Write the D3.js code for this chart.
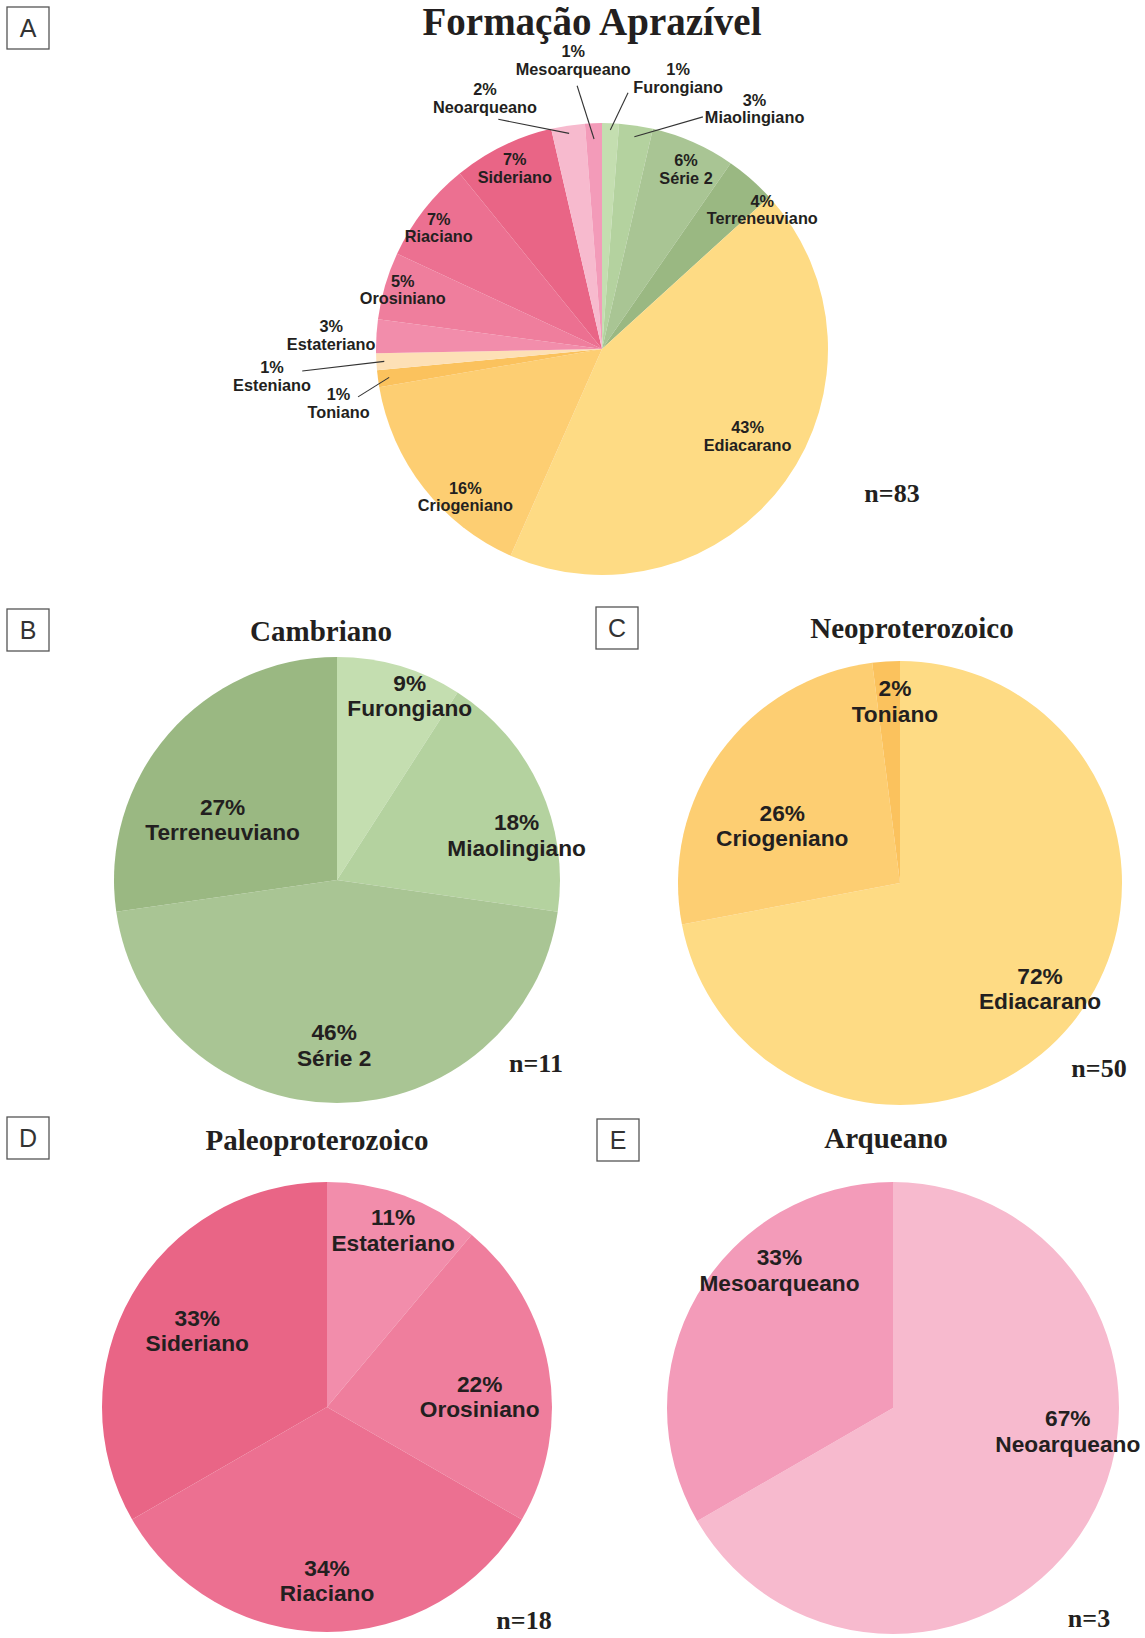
<!DOCTYPE html>
<html>
<head>
<meta charset="utf-8">
<script src="https://cdn.jsdelivr.net/npm/d3@7"></script>
<style>
  body { margin: 0; background: #fff; }
  svg { display: block; }
</style>
</head>
<body>
<div id="chart"></div>
<script>
'use strict';

// ---- data (counts, labels as printed) ----
var totalNames = ['Furongiano', 'Miaolingiano', 'Série 2', 'Terreneuviano', 'Ediacarano', 'Criogeniano',
    'Toniano', 'Esteniano', 'Estateriano', 'Orosiniano', 'Riaciano', 'Sideriano', 'Neoarqueano', 'Mesoarqueano'];
var totalCounts = [1, 2, 5, 3, 36, 13, 1, 1, 2, 4, 6, 6, 2, 1];
var totalPct = ['1%', '3%', '6%', '4%', '43%', '16%', '1%', '1%', '3%', '5%', '7%', '7%', '2%', '1%'];

var cambrianoNames = ['Furongiano', 'Miaolingiano', 'Série 2', 'Terreneuviano'];
var cambrianoCounts = [1, 2, 5, 3];
var cambrianoPct = ['9%', '18%', '46%', '27%'];

var neoproterozoicoNames = ['Ediacarano', 'Criogeniano', 'Toniano'];
var neoproterozoicoCounts = [36, 13, 1];
var neoproterozoicoPct = ['72%', '26%', '2%'];

var paleoproterozoicoNames = ['Estateriano', 'Orosiniano', 'Riaciano', 'Sideriano'];
var paleoproterozoicoCounts = [2, 4, 6, 6];
var paleoproterozoicoPct = ['11%', '22%', '34%', '33%'];

var arqueanoNames = ['Neoarqueano', 'Mesoarqueano'];
var arqueanoCounts = [2, 1];
var arqueanoPct = ['67%', '33%'];

// ---- styles ----
var colors = {
    'Furongiano': '#c4deb0',
    'Miaolingiano': '#b4d29f',
    'Série 2': '#a9c594',
    'Terreneuviano': '#9ab882',
    'Ediacarano': '#fedb84',
    'Criogeniano': '#fdce72',
    'Toniano': '#fbc25d',
    'Esteniano': '#fde0b6',
    'Estateriano': '#f28dab',
    'Orosiniano': '#ef7e9d',
    'Riaciano': '#ec7091',
    'Sideriano': '#e96586',
    'Neoarqueano': '#f7bace',
    'Mesoarqueano': '#f39bb9'
};
var ink = '#231f20';
var serif = '"Liberation Serif", "Times New Roman", serif';
var sans = '"Liberation Sans", Arial, sans-serif';

// ---- layout: label anchors as [angle in degrees, fraction of radius] ----
var panels = [
    {
        letter: 'A', box: [7, 7], title: 'Formação Aprazível', titlePos: [592, 35], titleSize: 39,
        cx: 602, cy: 349, r: 226, n: 'n=83', nPos: [892, 502],
        names: totalNames, counts: totalCounts, pct: totalPct,
        fontSize: 16.3, lineH: 17.5,
        labels: [[15.7, 1.245], [32.4, 1.26], [25, 0.88], [49, 0.94], [120.8, 0.75], [222.8, 0.89],
            [258.4, 1.19], [265.3, 1.465], [273, 1.2], [286.7, 0.92], [306.6, 0.9], [334.3, 0.89],
            [335, 1.225], [354.3, 1.285]],
        // leaders: index -> [start fraction, end angle, end fraction]
        leaders: {0: [0.97, 5.8, 1.14], 1: [0.95, 23.5, 1.12], 6: [0.95, 258.9, 1.10],
            7: [0.965, 265.8, 1.33], 12: [0.965, 335.7, 1.115], 13: [0.93, 354.6, 1.17]}
    },
    {
        letter: 'B', box: [7, 609], title: 'Cambriano', titlePos: [321, 641], titleSize: 29,
        cx: 337, cy: 880, r: 223, n: 'n=11', nPos: [536, 1072],
        names: cambrianoNames, counts: cambrianoCounts, pct: cambrianoPct,
        fontSize: 22.7, lineH: 25.5,
        labels: [[21.5, 0.89], [76, 0.83], [181, 0.74], [297.8, 0.58]]
    },
    {
        letter: 'C', box: [596, 607], title: 'Neoproterozoico', titlePos: [912, 638], titleSize: 29,
        cx: 900, cy: 883, r: 222, n: 'n=50', nPos: [1099, 1077],
        names: neoproterozoicoNames, counts: neoproterozoicoCounts, pct: neoproterozoicoPct,
        fontSize: 22.7, lineH: 25.5,
        labels: [[127, 0.79], [296, 0.59], [358.4, 0.82]]
    },
    {
        letter: 'D', box: [7, 1117], title: 'Paleoproterozoico', titlePos: [317, 1150], titleSize: 29,
        cx: 327, cy: 1407, r: 225, n: 'n=18', nPos: [524, 1629],
        names: paleoproterozoicoNames, counts: paleoproterozoicoCounts, pct: paleoproterozoicoPct,
        fontSize: 22.7, lineH: 25.5,
        labels: [[20.5, 0.84], [86, 0.68], [180, 0.77], [300.6, 0.67]]
    },
    {
        letter: 'E', box: [597, 1119], title: 'Arqueano', titlePos: [886, 1148], titleSize: 29,
        cx: 893, cy: 1408, r: 226, n: 'n=3', nPos: [1089, 1627],
        names: arqueanoNames, counts: arqueanoCounts, pct: arqueanoPct,
        fontSize: 22.7, lineH: 25.5,
        labels: [[97.5, 0.78], [320.5, 0.79]]
    }
];

var width = 1145, height = 1638;
var svg = d3.select('#chart').append('svg')
    .attr('width', width)
    .attr('height', height)
    .attr('viewBox', '0 0 ' + width + ' ' + height);

function polar(cx, cy, deg, dist) {
    var a = deg * Math.PI / 180;
    return [cx + dist * Math.sin(a), cy - dist * Math.cos(a)];
}

var pie = d3.pie().sort(null).value(function(d) { return d.count; });

panels.forEach(function(p) {
    var g = svg.append('g');

    // panel letter box
    g.append('rect')
        .attr('x', p.box[0]).attr('y', p.box[1])
        .attr('width', 42).attr('height', 42)
        .attr('fill', 'none').attr('stroke', '#555').attr('stroke-width', 1.3);
    g.append('text')
        .attr('x', p.box[0] + 21).attr('y', p.box[1] + 30)
        .attr('text-anchor', 'middle')
        .attr('font-family', sans).attr('font-size', 25)
        .attr('fill', '#333')
        .text(p.letter);

    g.append('text')
        .attr('x', p.titlePos[0]).attr('y', p.titlePos[1])
        .attr('text-anchor', 'middle')
        .attr('font-family', serif).attr('font-weight', 'bold')
        .attr('font-size', p.titleSize).attr('fill', ink)
        .text(p.title);

    var rows = p.names.map(function(name, i) {
        return {name: name, count: p.counts[i], pct: p.pct[i]};
    });
    var arcs = pie(rows);
    var arc = d3.arc().innerRadius(0).outerRadius(p.r);

    var pg = g.append('g').attr('transform', 'translate(' + p.cx + ',' + p.cy + ')');
    pg.selectAll('path')
        .data(arcs)
        .enter().append('path')
        .attr('d', arc)
        .attr('fill', function(d) { return colors[d.data.name]; });

    // leader lines
    if (p.leaders) {
        Object.keys(p.leaders).forEach(function(k) {
            var d = arcs[+k], L = p.leaders[k];
            var mid = (d.startAngle + d.endAngle) / 2 * 180 / Math.PI;
            var a = polar(p.cx, p.cy, mid, L[0] * p.r);
            var b = polar(p.cx, p.cy, L[1], L[2] * p.r);
            g.append('line')
                .attr('x1', a[0]).attr('y1', a[1])
                .attr('x2', b[0]).attr('y2', b[1])
                .attr('stroke', '#333').attr('stroke-width', 1.1);
        });
    }

    // labels: percentage over name
    arcs.forEach(function(d, i) {
        var pos = polar(p.cx, p.cy, p.labels[i][0], p.labels[i][1] * p.r);
        var t = g.append('text')
            .attr('text-anchor', 'middle')
            .attr('font-family', sans).attr('font-weight', 'bold')
            .attr('font-size', p.fontSize).attr('fill', ink);
        t.append('tspan')
            .attr('x', pos[0]).attr('y', pos[1] - p.lineH / 2)
            .attr('dominant-baseline', 'central')
            .text(d.data.pct);
        t.append('tspan')
            .attr('x', pos[0]).attr('y', pos[1] + p.lineH / 2)
            .attr('dominant-baseline', 'central')
            .text(d.data.name);
    });

    g.append('text')
        .attr('x', p.nPos[0]).attr('y', p.nPos[1])
        .attr('text-anchor', 'middle')
        .attr('font-family', serif).attr('font-weight', 'bold')
        .attr('font-size', 26).attr('fill', ink)
        .text(p.n);
});
</script>
</body>
</html>
